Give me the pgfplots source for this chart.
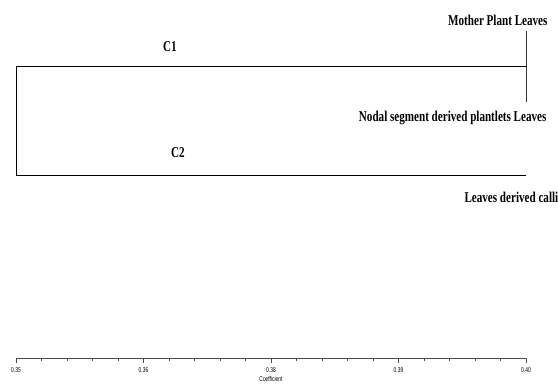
\documentclass[border=0pt]{standalone}
\usepackage{fontspec}
\setmainfont{Liberation Serif}
\newfontfamily\labfont[FakeStretch=0.74]{Liberation Serif}
\newfontfamily\tickfont[FakeStretch=0.7]{Liberation Sans}
\usepackage{pgfplots}
\pgfplotsset{compat=1.18}
\begin{document}
\begin{tikzpicture}[x=1pt,y=1pt]
\useasboundingbox (0,0) rectangle (558,387);
\begin{axis}[
  at={(16pt,29pt)}, anchor=south west,
  scale only axis, width=510pt, height=358pt,
  xmin=0.35, xmax=0.40, ymin=0, ymax=358,
  axis x line=bottom, axis y line=none,
  axis line style={gray!60!black, line width=0.8pt, -},
  xtick={0.35,0.3625,0.375,0.3875,0.40},
  xticklabels={0.35,0.36,0.38,0.39,0.40},
  minor x tick num=4,
  tick align=outside,
  major tick length=5pt, minor tick length=3pt,
  tick style={gray!60!black, line width=0.6pt},
  xticklabel style={font=\tickfont\fontsize{7}{7}\selectfont, yshift=-1pt},
  xlabel={Coefficient},
  xlabel style={font=\tickfont\fontsize{7}{7}\selectfont, yshift=3pt},
  clip=false,
]
\addplot[black!80, line width=0.6pt] coordinates {(0.40,327) (0.40,256)};
\addplot[black, line width=0.9pt] coordinates {(0.40,292) (0.35,292) (0.35,183) (0.40,183)};
\node[anchor=east, font=\labfont\bfseries\fontsize{15}{15}\selectfont] at (axis cs:0.40245,338) {Mother Plant Leaves};
\node[font=\labfont\bfseries\fontsize{15}{15}\selectfont] at (axis cs:0.3651,311) {C1};
\node[anchor=east, font=\labfont\bfseries\fontsize{15}{15}\selectfont] at (axis cs:0.40235,240) {Nodal segment derived plantlets Leaves};
\node[font=\labfont\bfseries\fontsize{15}{15}\selectfont] at (axis cs:0.36588,205) {C2};
\node[anchor=west, font=\labfont\bfseries\fontsize{15}{15}\selectfont] at (axis cs:0.39363,161) {Leaves derived calli};
\end{axis}
\end{tikzpicture}
\end{document}
